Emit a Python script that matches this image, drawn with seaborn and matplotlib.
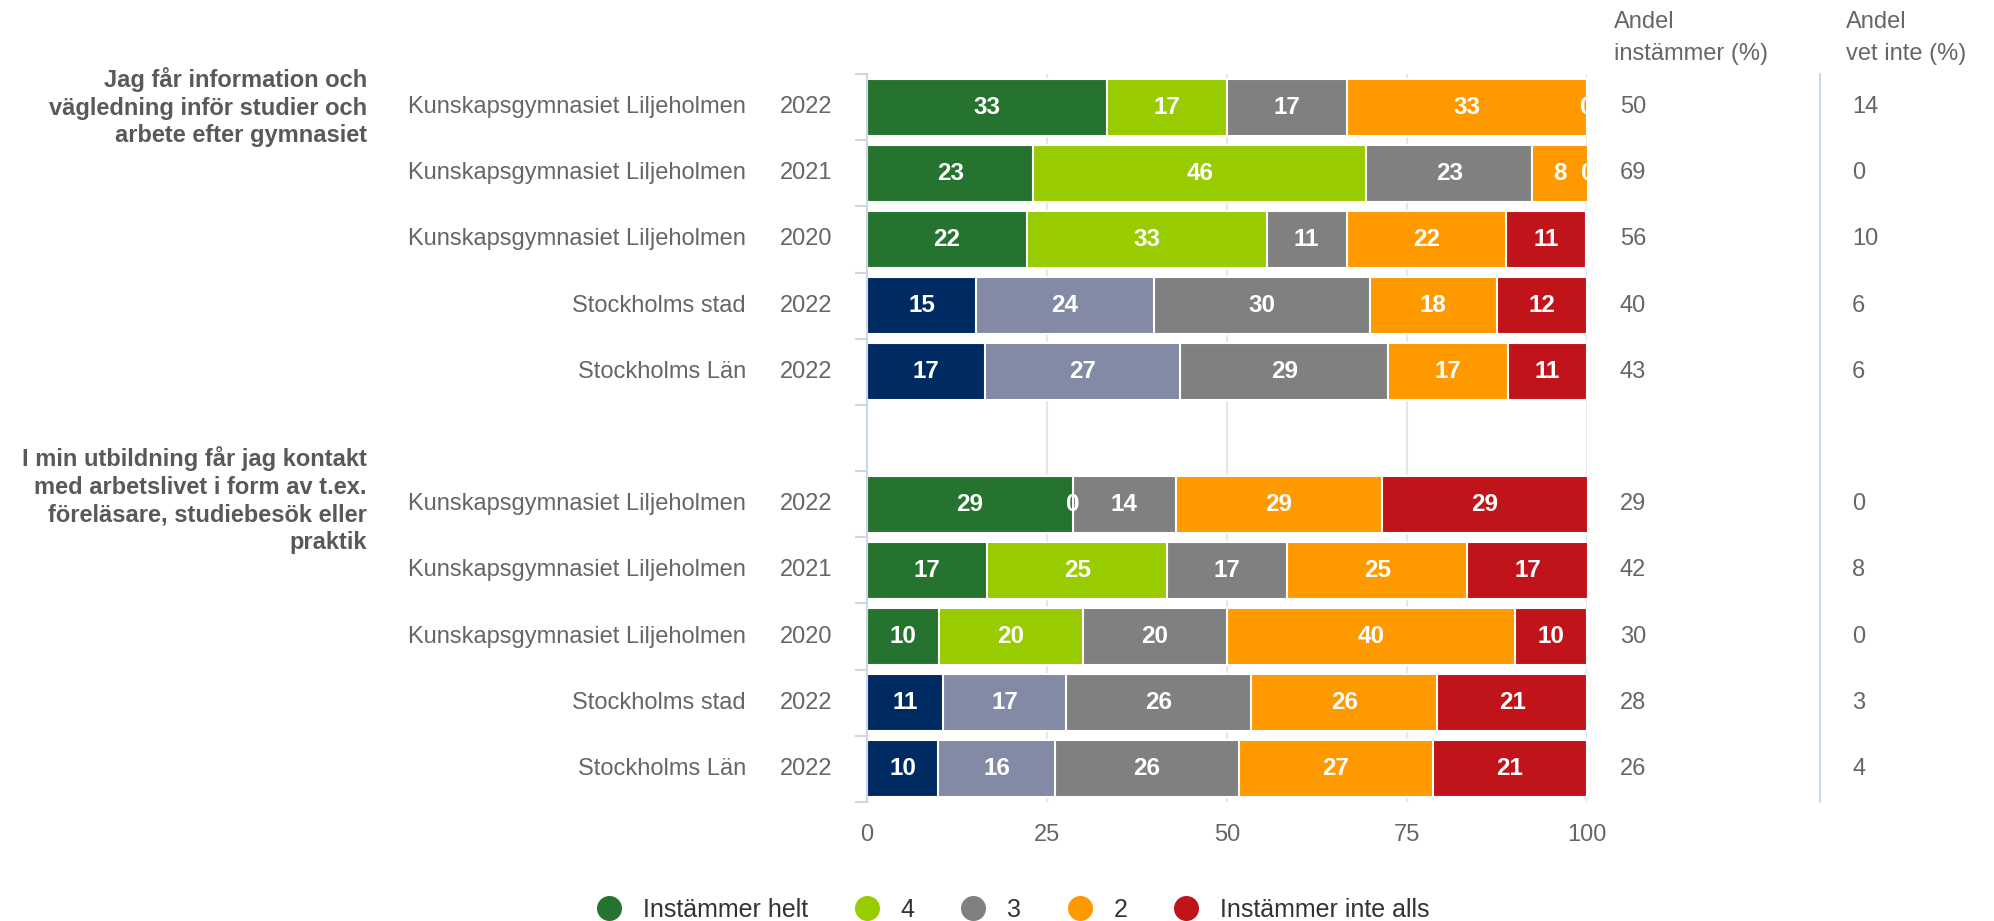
import numpy as np
import pandas as pd
import matplotlib
matplotlib.use("Agg")
import matplotlib.pyplot as plt
import matplotlib.transforms as mtrans
from matplotlib.lines import Line2D
import seaborn as sns

# data
questions = [
    "Jag får information och\nvägledning inför studier och\narbete efter gymnasiet",
    "I min utbildning får jag kontakt\nmed arbetslivet i form av t.ex.\nföreläsare, studiebesök eller\npraktik",
]
units = ["Kunskapsgymnasiet Liljeholmen", "Kunskapsgymnasiet Liljeholmen",
         "Kunskapsgymnasiet Liljeholmen", "Stockholms stad", "Stockholms Län"] * 2
years = ["2022", "2021", "2020", "2022", "2022"] * 2
categories = ["Instämmer helt", "4", "3", "2", "Instämmer inte alls"]

shares = [
    [33.3, 16.7, 16.7, 33.3, 0.0],
    [23.1, 46.2, 23.1, 7.7, 0.0],
    [22.2, 33.3, 11.1, 22.2, 11.1],
    [15.2, 24.6, 30.0, 17.7, 12.5],
    [16.4, 27.1, 28.9, 16.6, 11.0],
    [28.6, 0.0, 14.3, 28.6, 28.6],
    [16.7, 25.0, 16.7, 25.0, 16.7],
    [10.0, 20.0, 20.0, 40.0, 10.0],
    [10.6, 17.0, 25.8, 25.8, 20.8],
    [9.9, 16.2, 25.6, 26.9, 21.4],
]
bar_labels = [
    [33, 17, 17, 33, 0],
    [23, 46, 23, 8, 0],
    [22, 33, 11, 22, 11],
    [15, 24, 30, 18, 12],
    [17, 27, 29, 17, 11],
    [29, 0, 14, 29, 29],
    [17, 25, 17, 25, 17],
    [10, 20, 20, 40, 10],
    [11, 17, 26, 26, 21],
    [10, 16, 26, 27, 21],
]
andel_instammer = [50, 69, 56, 40, 43, 29, 42, 30, 28, 26]
andel_vet_inte = [14, 0, 10, 6, 6, 0, 8, 0, 3, 4]

school_colors = ["#267330", "#99cc00", "#808080", "#ff9900", "#c0141a"]
region_colors = ["#002b62", "#828aa5", "#808080", "#ff9900", "#c0141a"]

row_ids = ["r%d" % i for i in range(len(units))]
order = row_ids[:5] + ["gap"] + row_ids[5:]
row_colors = [school_colors if u.startswith("Kunskaps") else region_colors for u in units]

vals = np.array(shares)
cum = np.cumsum(vals, axis=1)

sns.set_theme(style="white")
plt.rcParams["font.family"] = ["Liberation Sans", "DejaVu Sans"]

fig = plt.figure(figsize=(19.94, 9.21), dpi=100)
ax = fig.add_axes([0.4348, 0.1292, 0.3611, 0.7904])

# stacked bars: draw cumulative totals from the widest down
for k in range(len(categories) - 1, -1, -1):
    df = pd.DataFrame({"row": row_ids, "cum": cum[:, k]})
    pal = {r: row_colors[i][k] for i, r in enumerate(row_ids)}
    sns.barplot(data=df, x="cum", y="row", hue="row", palette=pal, order=order,
                orient="h", width=0.86, saturation=1, edgecolor="white",
                linewidth=1.5, legend=False, ax=ax)

for i, r in enumerate(row_ids):
    p = order.index(r)
    for k in range(len(categories)):
        ax.text(cum[i, k] - vals[i, k] / 2, p, str(bar_labels[i][k]),
                ha="center", va="center", color="white", fontsize=17.5,
                fontweight="bold", clip_on=True)

ax.set_xlim(0, 100)
ax.set_ylim(len(order) - 0.5, -0.5)
ax.set_xticks([0, 25, 50, 75, 100])
ax.set_yticks([])
ax.set_yticks(np.arange(-0.5, len(order), 1), minor=True)
ax.set_xlabel("")
ax.set_ylabel("")
ax.tick_params(axis="x", length=0, pad=16, labelsize=17, labelcolor="#666666")
ax.tick_params(axis="y", which="minor", left=True, length=9, width=1.5, color="#ccd6eb")
ax.grid(axis="x", color="#e6e6e6", lw=1.5)
ax.set_axisbelow(True)
for s in ["top", "right", "bottom"]:
    ax.spines[s].set_visible(False)
ax.spines["left"].set_color("#ccd6eb")
ax.spines["left"].set_linewidth(1.5)

# row labels and side columns
trans = mtrans.blended_transform_factory(fig.transFigure, ax.transData)
for i, r in enumerate(row_ids):
    p = order.index(r)
    ax.text(0.3741, p, units[i], transform=trans, ha="right", va="center",
            fontsize=17, color="#666666")
    ax.text(0.3912, p, years[i], transform=trans, ha="left", va="center",
            fontsize=17, color="#666666")
    ax.text(0.8124, p, str(andel_instammer[i]), transform=trans, ha="left",
            va="center", fontsize=17, color="#666666")
    ax.text(0.9288, p, str(andel_vet_inte[i]), transform=trans, ha="left",
            va="center", fontsize=17, color="#666666")

for g, q in enumerate(questions):
    p = order.index(row_ids[g * 5]) - 0.06 * g
    ax.text(0.184, p, q, transform=trans, ha="right", va="center",
            multialignment="right", fontsize=17, fontweight="bold",
            color="#595959", linespacing=1.25)

# column headers
fig.text(0.8094, 1 - 38 / 921, "Andel\ninstämmer (%)", ha="left", va="center",
         fontsize=17, color="#666666", linespacing=1.55)
fig.text(0.9258, 1 - 38 / 921, "Andel\nvet inte (%)", ha="left", va="center",
         fontsize=17, color="#666666", linespacing=1.55)
fig.add_artist(Line2D([0.9127, 0.9127], [1 - 74 / 921, 0.1292],
                      transform=fig.transFigure, color="#ccd6eb", lw=1.5))

handles = [Line2D([], [], marker="o", ls="", markersize=17, markerfacecolor=c,
                  markeredgecolor=c) for c in school_colors]
fig.legend(handles, categories, loc="center", bbox_to_anchor=(0.508, 0.012),
           ncol=5, frameon=False, fontsize=18, handletextpad=0.85,
           columnspacing=1.85, handlelength=1.0, labelcolor="#333333")

fig.savefig("out.png", dpi=100)
